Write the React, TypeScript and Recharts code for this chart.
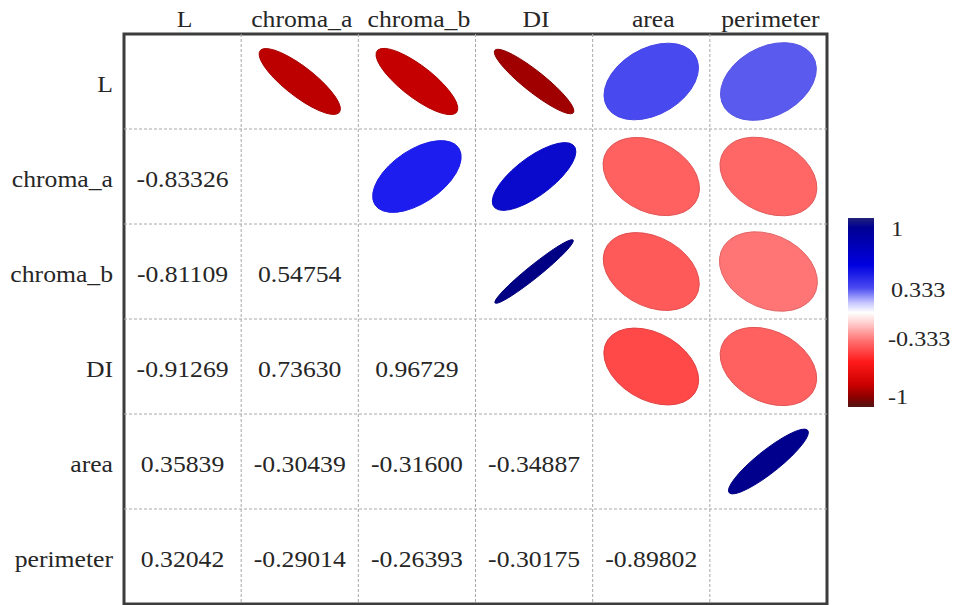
import React from 'react';
import { ScatterChart, Scatter, XAxis, YAxis, ReferenceLine, ReferenceArea } from 'recharts';

// ---------- data ----------
const variables = ['L', 'chroma_a', 'chroma_b', 'DI', 'area', 'perimeter'];

// lower triangle printed coefficients (row i, columns 0..i-1)
const lowerL: number[] = [];
const lowerChromaA = [-0.83326];
const lowerChromaB = [-0.81109, 0.54754];
const lowerDI = [-0.91269, 0.7363, 0.96729];
const lowerArea = [0.35839, -0.30439, -0.316, -0.34887];
const lowerPerimeter = [0.32042, -0.29014, -0.26393, -0.30175, -0.89802];
const lowerRows = [lowerL, lowerChromaA, lowerChromaB, lowerDI, lowerArea, lowerPerimeter];

// upper triangle ellipse correlations (row i, columns i+1..5) as drawn
const upperL = [-0.83326, -0.81109, -0.91269, 0.35839, 0.32042];
const upperChromaA = [0.54754, 0.7363, -0.30439, -0.29014];
const upperChromaB = [0.96729, -0.316, -0.26393];
const upperDI = [-0.34887, -0.30175];
const upperArea = [0.89802];
const upperRows = [upperL, upperChromaA, upperChromaB, upperDI, upperArea];

const colorbarTicks = ['1', '0.333', '-0.333', '-1'];

// ---------- layout ----------
const W = 959;
const H = 605;
const PL = 124;
const PT = 34;
const PR = 827;
const PB = 604;
const CELL_W = (PR - PL) / 6;
const CELL_H = (PB - PT) / 6;
const FONT = '"Liberation Serif", "Times New Roman", serif';
const TEXT_COLOR = '#262626';

const POS_STOPS: [number, string][] = [
  [0, '#ffffff'], [0.32, '#5a5aee'], [0.36, '#4848f0'], [0.55, '#1c1cf0'],
  [0.74, '#0a0acc'], [0.9, '#00008c'], [1, '#000080'],
];
const NEG_STOPS: [number, string][] = [
  [0, '#ffffff'], [0.26, '#ff7676'], [0.3, '#ff6262'], [0.35, '#ff4848'],
  [0.55, '#f01010'], [0.81, '#c40000'], [0.91, '#a20000'], [1, '#800000'],
];

function hexToRgb(h: string) {
  return [parseInt(h.slice(1, 3), 16), parseInt(h.slice(3, 5), 16), parseInt(h.slice(5, 7), 16)];
}
function colorFor(r: number, darken = 0) {
  const stops = r >= 0 ? POS_STOPS : NEG_STOPS;
  const a = Math.abs(r);
  let i = 0;
  while (i < stops.length - 2 && a > stops[i + 1][0]) i++;
  const [p0, c0] = stops[i];
  const [p1, c1] = stops[i + 1];
  const t = Math.min(1, Math.max(0, (a - p0) / (p1 - p0)));
  const A = hexToRgb(c0);
  const B = hexToRgb(c1);
  const rgb = A.map((v, k) => Math.round((v + (B[k] - v) * t) * (1 - darken)));
  return `rgb(${rgb[0]},${rgb[1]},${rgb[2]})`;
}

const ellipseData = upperRows.flatMap((vals, i) =>
  vals.map((r, k) => ({ x: i + k + 1 + 0.5, y: i + 0.5, r }))
);
const textData = lowerRows.flatMap((vals, i) =>
  vals.map((v, j) => ({ x: j + 0.5, y: i + 0.5, label: v.toFixed(5) }))
);
const ticks = variables.map((_, i) => i + 0.5);
const gridLines = [1, 2, 3, 4, 5];

const EllipseShape = (props: any) => {
  const { cx, cy, payload } = props;
  if (cx == null || cy == null) return null;
  const r: number = payload.r;
  const a = 0.47;
  const b = a * Math.sqrt((1 - Math.abs(r)) / (1 + Math.abs(r)));
  const fill = colorFor(r);
  const stroke = colorFor(r, r < 0 ? 0.12 : 0.05);
  return (
    <ellipse
      cx={0}
      cy={0}
      rx={a}
      ry={b}
      fill={fill}
      stroke={stroke}
      strokeWidth={1}
      vectorEffect="non-scaling-stroke"
      transform={`translate(${cx},${cy}) scale(${CELL_W},${CELL_H}) rotate(${r > 0 ? -45 : 45})`}
    />
  );
};

const TextShape = (props: any) => {
  const { cx, cy, payload } = props;
  if (cx == null || cy == null) return null;
  return (
    <text
      x={0}
      y={0}
      transform={`translate(${cx},${cy + 10}) scale(1.07,1)`}
      textAnchor="middle"
      fontFamily={FONT}
      fontSize={24}
      fill={TEXT_COLOR}
    >
      {payload.label}
    </text>
  );
};

const XTick = (props: any) => {
  const { x, y, payload } = props;
  return (
    <text
      x={0}
      y={0}
      transform={`translate(${x + 2},${y}) scale(1.07,1)`}
      textAnchor="middle"
      fontFamily={FONT}
      fontSize={24}
      fill={TEXT_COLOR}
    >
      {variables[Math.floor(payload.value)]}
    </text>
  );
};

const YTick = (props: any) => {
  const { x, y, payload } = props;
  return (
    <text
      x={0}
      y={0}
      transform={`translate(${x},${y + 10}) scale(1.07,1)`}
      textAnchor="end"
      fontFamily={FONT}
      fontSize={24}
      fill={TEXT_COLOR}
    >
      {variables[Math.floor(payload.value)]}
    </text>
  );
};

const CB_X = 848;
const CB_Y = 218;
const CB_W = 26;
const CB_H = 189;
const CB_LABEL_Y = [236, 297, 346, 404];

const ColorBar = () => (
  <g>
    <defs>
      <linearGradient id="cbGrad" x1="0" y1="0" x2="0" y2="1">
        <stop offset="0" stopColor="#22227a" />
        <stop offset="0.05" stopColor="#000092" />
        <stop offset="0.25" stopColor="#0000e0" />
        <stop offset="0.37" stopColor="#4a4af2" />
        <stop offset="0.45" stopColor="#c8c8ff" />
        <stop offset="0.5" stopColor="#ffffff" />
        <stop offset="0.55" stopColor="#ffd4d4" />
        <stop offset="0.65" stopColor="#ff7070" />
        <stop offset="0.76" stopColor="#ff1a1a" />
        <stop offset="0.88" stopColor="#cc0000" />
        <stop offset="0.95" stopColor="#8b0000" />
        <stop offset="1" stopColor="#501414" />
      </linearGradient>
    </defs>
    <rect x={CB_X} y={CB_Y} width={CB_W} height={CB_H} fill="url(#cbGrad)" />
    {colorbarTicks.map((t, i) => (
      <text
        key={t}
        x={0}
        y={0}
        transform={`translate(${t.startsWith('-') ? 888 : 891},${CB_LABEL_Y[i]}) scale(1.15,1)`}
        fontFamily={FONT}
        fontSize={21}
        fill={TEXT_COLOR}
      >
        {t}
      </text>
    ))}
  </g>
);

export default function App() {
  return (
    <div style={{ position: 'absolute', left: 0, top: 0, width: W, height: H, background: '#fff' }}>
      <ScatterChart
        width={W}
        height={H}
        margin={{ top: 0, left: 0, right: W - PR, bottom: H - PB }}
      >
        <XAxis
          type="number"
          dataKey="x"
          domain={[0, 6]}
          ticks={ticks}
          orientation="top"
          height={PT}
          axisLine={false}
          tickLine={false}
          tickSize={0}
          tickMargin={7.5}
          tick={<XTick />}
          interval={0}
        />
        <YAxis
          type="number"
          dataKey="y"
          domain={[0, 6]}
          reversed
          ticks={ticks}
          width={PL}
          axisLine={false}
          tickLine={false}
          tickSize={0}
          tickMargin={11}
          tick={<YTick />}
          interval={0}
        />
        {gridLines.map((g) => (
          <ReferenceLine key={`vx${g}`} x={g} stroke="#a8a8a8" strokeDasharray="3 2" strokeWidth={1} />
        ))}
        {gridLines.map((g) => (
          <ReferenceLine key={`hy${g}`} y={g} stroke="#a8a8a8" strokeDasharray="3 2" strokeWidth={1} />
        ))}
        <Scatter data={ellipseData} isAnimationActive={false} shape={<EllipseShape />} />
        <Scatter data={textData} isAnimationActive={false} shape={<TextShape />} />
        <ReferenceArea x1={0} x2={6} y1={0} y2={6} fill="none" fillOpacity={0} stroke="#3c3c3c" strokeWidth={3} />
        <ColorBar />
      </ScatterChart>
    </div>
  );
}
